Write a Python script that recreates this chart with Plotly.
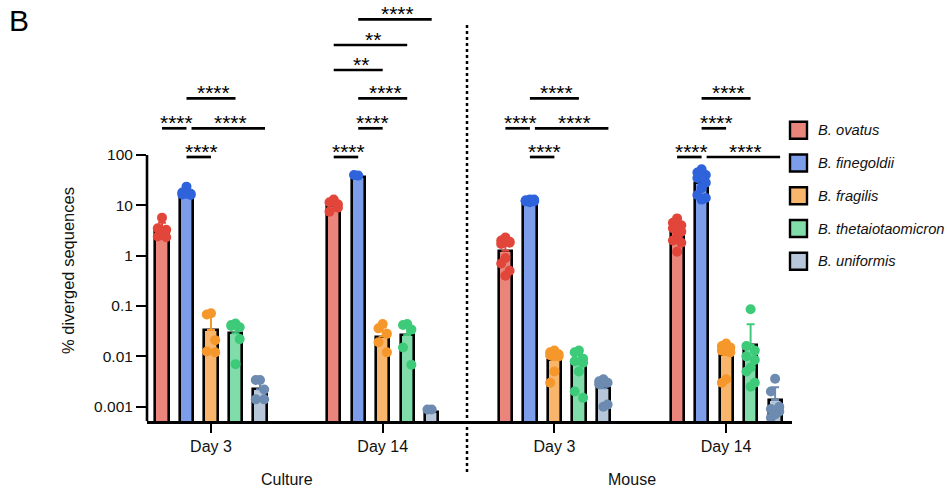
import numpy as np
import plotly.graph_objects as go

# ---------------- data ----------------
group_labels = ["Day 3", "Day 14", "Day 3", "Day 14"]
setting_labels = ["Culture", "Mouse"]
species = ["B. ovatus", "B. finegoldii", "B. fragilis", "B. thetaiotaomicron", "B. uniformis"]

ovatus_mean = [3.25, 9.8, 1.25, 3.0]
finegoldii_mean = [17.5, 37.4, 11.9, 27.6]
fragilis_mean = [0.0335, 0.0247, 0.0085, 0.0107]
theta_mean = [0.0288, 0.0266, 0.0070, 0.0169]
uniformis_mean = [0.00222, 0.00080, 0.00232, 0.00136]

ovatus_pts = [
    [5.7, 3.5, 3.26, 2.4, 2.33, 2.6],
    [13.0, 11.5, 10.5, 7.5, 9.0],
    [2.3, 2.0, 1.9, 1.7, 1.8, 0.9, 0.7, 0.5, 0.4],
    [5.5, 4.5, 4.0, 3.5, 3.0, 2.5, 2.0, 1.8, 1.2],
]
finegoldii_pts = [
    [23.5, 18, 17, 16.5, 16, 17],
    [39, 40],
    [13, 12.5, 12.5, 12, 12, 11.5, 12.5, 13, 12],
    [52, 45, 40, 35, 28, 22, 16, 14, 13],
]
fragilis_pts = [
    [0.072, 0.068, 0.021, 0.0125, 0.012],
    [0.044, 0.036, 0.028, 0.019, 0.012],
    [0.013, 0.012, 0.011, 0.0105, 0.01, 0.005, 0.003],
    [0.018, 0.016, 0.015, 0.013, 0.012, 0.0035, 0.003],
]
theta_pts = [
    [0.045, 0.04, 0.038, 0.042, 0.022, 0.007],
    [0.044, 0.042, 0.034, 0.015, 0.0068],
    [0.013, 0.012, 0.009, 0.008, 0.0075, 0.005, 0.002, 0.0015],
    [0.086, 0.016, 0.013, 0.01, 0.0085, 0.006, 0.005, 0.003, 0.0025],
]
uniformis_pts = [
    [0.0034, 0.0034, 0.0022, 0.0014, 0.0014],
    [0.00088, 0.00088],
    [0.0035, 0.0032, 0.003, 0.0028, 0.0011, 0.001],
    [0.0036, 0.002, 0.001, 0.0009, 0.0008, 0.0007, 0.0006],
]

y_tick_vals = [0.001, 0.01, 0.1, 1, 10, 100]
y_tick_text = ["0.001", "0.01", "0.1", "1", "10", "100"]

# significance brackets: (group, from species, to species, row, label)
brackets = [
    (0, 1, 2, 0, "****"), (0, 0, 1, 1, "****"), (0, 1, 4, 1, "****"), (0, 1, 3, 2, "****"),
    (1, 0, 1, 0, "****"), (1, 1, 2, 1, "****"), (1, 1, 3, 2, "****"), (1, 0, 2, 3, "**"),
    (1, 0, 3, 4, "**"), (1, 1, 4, 5, "****"),
    (2, 1, 2, 0, "****"), (2, 0, 1, 1, "****"), (2, 1, 4, 1, "****"), (2, 1, 3, 2, "****"),
    (3, 0, 1, 0, "****"), (3, 1, 4, 0, "****"), (3, 1, 2, 1, "****"), (3, 1, 3, 2, "****"),
]

means = [ovatus_mean, finegoldii_mean, fragilis_mean, theta_mean, uniformis_mean]
points = [ovatus_pts, finegoldii_pts, fragilis_pts, theta_pts, uniformis_pts]

# ---------------- style / layout ----------------
bar_fill = ["#EA857C", "#7B9DEA", "#F8B66D", "#80DCA9", "#B7C7D9"]
dot_col = ["#E2463A", "#2F63DB", "#F5972B", "#3DCB7A", "#6D8BB0"]
FONT = "Liberation Sans, Arial, sans-serif"

FIG_W, FIG_H = 947, 492
L_PX, R_PX, T_PX, B_PX = 147, 792, 10, 421
PW, PH = R_PX - L_PX, B_PX - T_PX
GROUP_PX, FIRST_CENTER = 171.7, 211.0
Y001_PX, DEC_PX = 406.7, 50.34

def px_to_x(px):
    return (px - FIRST_CENTER) / GROUP_PX

def py_to_log(py):
    return -3 + (Y001_PX - py) / DEC_PX

def paper_x(px):
    return (px - L_PX) / PW

def paper_y(py):
    return (B_PX - py) / PH

step = 24.5 / GROUP_PX
offsets = [(k - 2) * step for k in range(5)]
bar_w = 13.2 / GROUP_PX
jit = [0, -1, 1, -1, 1, 0, -1, 1, 0]
jstep = 4.2 / GROUP_PX

fig = go.Figure()
for k in range(5):
    xs = [g + offsets[k] for g in range(4)]
    sd = [float(np.std(points[k][g], ddof=1)) for g in range(4)]
    fig.add_trace(go.Bar(
        x=xs, y=means[k], width=bar_w, name=species[k],
        marker=dict(color=bar_fill[k], line=dict(color="black", width=2.6)),
        error_y=dict(type="data", array=sd, arrayminus=[0] * 4, symmetric=False,
                     color=dot_col[k], thickness=2, width=4),
        showlegend=False,
    ))
for k in range(5):
    px, py = [], []
    for g in range(4):
        for i, v in enumerate(points[k][g]):
            px.append(g + offsets[k] + jit[i % len(jit)] * jstep)
            py.append(v)
    fig.add_trace(go.Scatter(
        x=px, y=py, mode="markers", showlegend=False,
        marker=dict(color=dot_col[k], size=10, line=dict(width=0)),
        cliponaxis=False,
    ))

shapes = []
annots = []
row_px = [157, 128.3, 98.3, 70, 45, 19.3]
nudge = 5 / GROUP_PX
for (g, a, b, r, lab) in brackets:
    n = 0
    for (g2, a2, b2, r2, _) in brackets:
        if g2 == g and r2 == r and b2 == a:
            n = nudge
    x0 = g + offsets[a] + n
    x1 = g + offsets[b] + n
    ylog = py_to_log(row_px[r])
    shapes.append(dict(type="line", xref="x", yref="y", x0=x0, x1=x1, y0=10 ** ylog, y1=10 ** ylog,
                       line=dict(color="black", width=2.7)))
    annots.append(dict(x=(x0 + x1) / 2, y=ylog, xref="x", yref="y", text=lab, showarrow=False,
                       xanchor="center", yanchor="bottom", xshift=2.5, yshift=-8,
                       font=dict(family=FONT, size=21, color="black")))

# y axis line (only up to 100)
shapes.append(dict(type="line", xref="paper", yref="y", x0=0, x1=0,
                   y0=10 ** py_to_log(B_PX + 1.5), y1=100, line=dict(color="black", width=2.6)))
# dotted separator
shapes.append(dict(type="line", xref="x", yref="paper", x0=px_to_x(467), x1=px_to_x(467),
                   y0=paper_y(25), y1=paper_y(472), line=dict(color="black", width=2.5, dash="dot")))

# legend (manual)
for k in range(5):
    cy = 130.3 + 32.75 * k
    shapes.append(dict(type="rect", xref="paper", yref="paper",
                       x0=paper_x(790), x1=paper_x(807), y0=paper_y(cy + 8.5), y1=paper_y(cy - 8.5),
                       fillcolor=bar_fill[k], line=dict(color="black", width=2.4)))
    annots.append(dict(x=paper_x(816), y=paper_y(cy), xref="paper", yref="paper", text=species[k],
                       showarrow=False, xanchor="left", yanchor="middle",
                       font=dict(family=FONT, size=14.7, color="#111", style="italic")))

# setting labels
for s, cx in zip(setting_labels, [px_to_x(287), px_to_x(632)]):
    annots.append(dict(x=cx, y=paper_y(479), xref="x", yref="paper", text=s, showarrow=False,
                       xanchor="center", yanchor="middle", font=dict(family=FONT, size=16, color="#111")))
# axis title
annots.append(dict(x=paper_x(68), y=paper_y(271), xref="paper", yref="paper", text="% diverged sequences",
                   showarrow=False, textangle=-90, xanchor="center", yanchor="middle",
                   font=dict(family=FONT, size=16.5, color="#111")))
# panel letter
annots.append(dict(x=paper_x(19), y=paper_y(21), xref="paper", yref="paper", text="B",
                   showarrow=False, xanchor="center", yanchor="middle",
                   font=dict(family=FONT, size=30, color="black")))

fig.update_layout(
    width=FIG_W, height=FIG_H, autosize=False,
    margin=dict(l=L_PX, r=FIG_W - R_PX, t=T_PX, b=FIG_H - B_PX, pad=0),
    plot_bgcolor="white", paper_bgcolor="white",
    barmode="overlay", bargap=0,
    shapes=shapes, annotations=annots, showlegend=False,
    xaxis=dict(range=[px_to_x(L_PX), px_to_x(R_PX)], tickvals=[0, 1, 2, 3], ticktext=group_labels,
               showline=True, linecolor="black", linewidth=2.6, ticks="outside", ticklen=9,
               tickwidth=2.4, tickcolor="black", showgrid=False, zeroline=False,
               tickfont=dict(family=FONT, size=16, color="#111")),
    yaxis=dict(type="log", range=[py_to_log(B_PX), py_to_log(T_PX)], tickvals=y_tick_vals,
               ticktext=y_tick_text, ticks="outside", ticklen=10, tickwidth=2.4, tickcolor="black",
               showline=False, showgrid=False, zeroline=False,
               tickfont=dict(family=FONT, size=15.5, color="#111")),
)
fig.write_html("out.html", config={"displayModeBar": False},
               post_script="document.body.style.margin='0px';document.body.style.overflow='hidden';")
